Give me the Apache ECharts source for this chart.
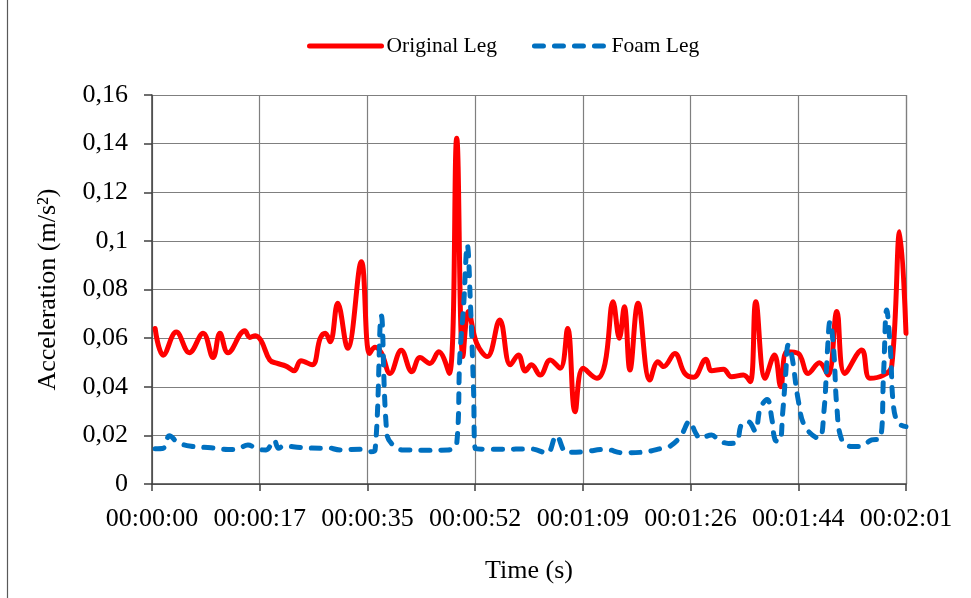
<!DOCTYPE html>
<html>
<head>
<meta charset="utf-8">
<script src="https://cdn.jsdelivr.net/npm/echarts@6/dist/echarts.min.js"></script>
<style>
html,body{margin:0;padding:0;background:#fff;}
#chart{width:971px;height:598px;}
</style>
</head>
<body>
<div id="chart"></div>
<script>
// ---- data (time in seconds, acceleration in m/s²) ----
const seriesNames = ['Original Leg', 'Foam Leg'];
const timeOriginal = [0.5,1.8,3.9,6.0,8.2,9.8,10.9,12.2,14.9,15.7,16.6,17.5,18.9,20.0,21.5,22.8,23.9,25.7,27.0,27.8,28.6,29.8,31.4,33.6,34.9,35.8,36.8,38.2,40.0,41.7,43.0,44.6,46.0,47.7,48.9,49.9,50.8,52.1,53.8,55.8,57.5,58.8,59.9,60.9,62.3,63.9,65.5,66.7,67.9,69.2,71.4,72.7,74.0,75.0,75.8,76.7,78.0,79.9,81.2,82.1,83.9,85.5,86.9,88.9,89.8,91.7,93.0,94.9,96.0,96.9,98.4,99.9,100.9,101.9,103.7,105.3,107.1,108.5,109.9,111.2,113.9,115.2,117.4,118.7,120.0,121.0];
const accelOriginal = [0.064,0.053,0.0625,0.054,0.062,0.052,0.062,0.054,0.063,0.0603,0.061,0.059,0.051,0.0497,0.0485,0.0466,0.0507,0.049,0.060,0.062,0.0585,0.0743,0.0558,0.0914,0.0537,0.0562,0.054,0.0455,0.055,0.0462,0.052,0.0496,0.0544,0.0455,0.1422,0.0524,0.0709,0.0579,0.0524,0.0675,0.049,0.0531,0.0465,0.049,0.0448,0.051,0.0476,0.064,0.0297,0.0476,0.0435,0.0496,0.075,0.060,0.0729,0.0469,0.0743,0.0428,0.0503,0.0483,0.0537,0.0455,0.0439,0.0513,0.0466,0.0472,0.0441,0.0448,0.0421,0.075,0.0435,0.0531,0.040,0.0544,0.0537,0.0455,0.0499,0.0448,0.0709,0.0455,0.0551,0.0435,0.0448,0.0483,0.1038,0.062];
const timeFoam = [0.5,1.8,2.8,4.2,6.3,9.5,12.2,13.8,15.4,17.0,18.3,19.6,20.3,21.1,23.8,27.0,28.0,30.2,33.4,35.0,35.8,36.8,37.7,38.7,40.3,44.1,47.5,48.9,49.4,50.0,50.6,51.1,51.6,51.9,55.8,60.9,63.4,64.9,66.6,69.5,72.7,75.6,79.4,81.8,83.1,84.8,86.3,87.2,88.0,89.8,90.9,92.5,93.8,94.6,95.7,96.8,97.6,98.7,99.5,100.0,100.7,101.2,101.7,102.1,102.7,103.7,104.8,107.0,107.8,108.4,108.8,109.4,109.9,110.7,112.3,113.6,115.5,116.8,117.4,117.9,118.5,119.0,119.8,121.0];
const accelFoam = [0.0145,0.0147,0.0198,0.017,0.0155,0.0149,0.0142,0.0145,0.016,0.0143,0.014,0.018,0.0147,0.0156,0.015,0.0147,0.015,0.014,0.0143,0.0133,0.014,0.0692,0.0205,0.016,0.014,0.0139,0.014,0.0165,0.0524,0.073,0.0983,0.0743,0.039,0.0145,0.0143,0.0144,0.0127,0.0198,0.013,0.0133,0.0143,0.0128,0.0133,0.0147,0.0155,0.0195,0.0258,0.0212,0.0188,0.0202,0.0181,0.0167,0.0172,0.0245,0.0256,0.0218,0.031,0.0348,0.0263,0.0181,0.0175,0.029,0.0455,0.0572,0.0524,0.0346,0.0236,0.0188,0.029,0.055,0.0668,0.055,0.0318,0.0181,0.0154,0.0154,0.0181,0.0185,0.0455,0.0716,0.0551,0.0318,0.025,0.0236];
const xTickLabels = ['00:00:00','00:00:17','00:00:35','00:00:52','00:01:09','00:01:26','00:01:44','00:02:01'];
const yTickLabels = ['0','0,02','0,04','0,06','0,08','0,1','0,12','0,14','0,16'];

const X_MAX = 121;
const X_STEP = X_MAX / (xTickLabels.length - 1);
const Y_STEP = 0.02;

const chart = echarts.init(document.getElementById('chart'), null, {renderer: 'canvas'});
const serif = '"Liberation Serif", "Times New Roman", serif';

chart.setOption({
  animation: false,
  backgroundColor: '#ffffff',
  textStyle: {fontFamily: serif, color: '#000'},
  graphic: [{
    type: 'line',
    shape: {x1: 7.5, y1: 0, x2: 7.5, y2: 598},
    style: {stroke: '#595959', lineWidth: 1.2}
  }],
  legend: {
    top: 30,
    left: 302,
    itemWidth: 72,
    itemHeight: 5,
    itemGap: 35,
    lineStyle: {width: 5, cap: 'round'},
    itemStyle: {opacity: 0},
    textStyle: {fontFamily: serif, fontSize: 21.5, color: '#000', padding: [0, 0, 0, 0]},
    data: seriesNames
  },
  grid: {left: 152, right: 65, top: 95, bottom: 114, containLabel: false},
  xAxis: {
    type: 'value',
    min: 0,
    max: X_MAX,
    interval: X_STEP,
    axisLine: {show: true, onZero: false, lineStyle: {color: '#404040', width: 1.5}},
    axisTick: {show: true, inside: false, length: 7, lineStyle: {color: '#404040', width: 1.5}},
    axisLabel: {
      margin: 22,
      fontFamily: serif,
      fontSize: 26,
      color: '#000',
      formatter: function (v) { return xTickLabels[Math.round(v / X_STEP)] || ''; }
    },
    splitLine: {show: true, lineStyle: {color: '#7f7f7f', width: 1.2}},
    name: 'Time (s)',
    nameLocation: 'middle',
    nameGap: 74,
    nameTextStyle: {fontFamily: serif, fontSize: 26, color: '#000'}
  },
  yAxis: {
    type: 'value',
    min: 0,
    max: 0.16,
    interval: Y_STEP,
    axisLine: {show: true, lineStyle: {color: '#404040', width: 1.5}},
    axisTick: {show: true, inside: false, length: 8, lineStyle: {color: '#404040', width: 1.5}},
    axisLabel: {
      margin: 24,
      fontFamily: serif,
      fontSize: 26,
      color: '#000',
      formatter: function (v) { return yTickLabels[Math.round(v / Y_STEP)] || ''; }
    },
    splitLine: {show: true, lineStyle: {color: '#7f7f7f', width: 1.2}},
    name: 'Acceleration (m/s²)',
    nameLocation: 'middle',
    nameGap: 91,
    nameRotate: 90,
    nameTextStyle: {fontFamily: serif, fontSize: 26, color: '#000'}
  },
  series: [
    {
      name: seriesNames[0],
      type: 'line',
      data: timeOriginal.map((t, i) => [t, accelOriginal[i]]),
      smooth: 0.4,
      symbol: 'none',
      lineStyle: {color: '#ff0000', width: 5, cap: 'round', join: 'round'},
      itemStyle: {color: '#ff0000'},
      z: 3
    },
    {
      name: seriesNames[1],
      type: 'line',
      data: timeFoam.map((t, i) => [t, accelFoam[i]]),
      smooth: 0.4,
      symbol: 'none',
      lineStyle: {color: '#0070c0', width: 5, type: [9, 11], cap: 'round', join: 'round'},
      itemStyle: {color: '#0070c0'},
      z: 4
    }
  ]
});
</script>
</body>
</html>
